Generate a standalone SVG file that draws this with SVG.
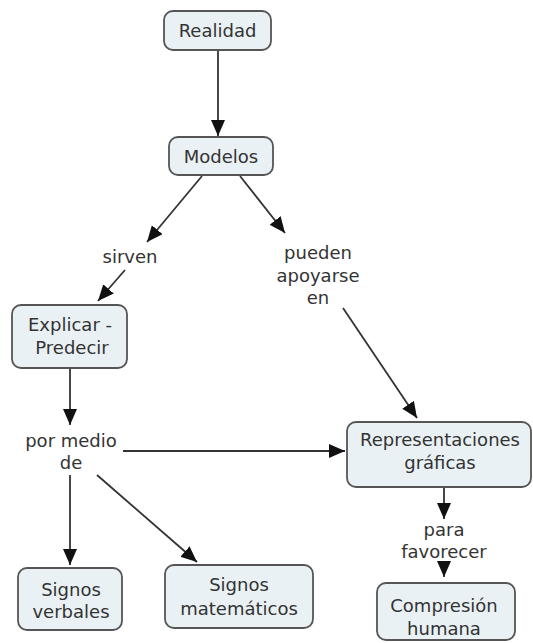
<svg xmlns="http://www.w3.org/2000/svg" width="533" height="643" viewBox="0 0 533 643">
<style>
.box{fill:#e9f1f4;stroke:#555;stroke-width:1.8}
.t{font-family:"DejaVu Sans",Verdana,sans-serif;font-size:18px;fill:#333;text-anchor:middle}
.c{stroke:#333;stroke-width:1.8;fill:none;marker-end:url(#ah)}
</style>
<defs>
<marker id="ah" viewBox="0 0 16 14" refX="16" refY="7" markerWidth="16" markerHeight="14" markerUnits="userSpaceOnUse" orient="auto">
<path d="M0,0 L16,7 L0,14 Z" fill="#111"/>
</marker>
</defs>
<rect width="533" height="643" fill="#fff"/>
<g id="connectors">
<line class="c" x1="218" y1="50" x2="218" y2="136"/>
<line class="c" x1="202" y1="176" x2="147" y2="242"/>
<line class="c" x1="240" y1="176" x2="285" y2="233"/>
<line class="c" x1="125" y1="270" x2="98" y2="301"/>
<line class="c" x1="343" y1="308" x2="417" y2="418"/>
<line class="c" x1="70" y1="368" x2="70" y2="425"/>
<line class="c" x1="123" y1="451" x2="345" y2="451"/>
<line class="c" x1="70" y1="475" x2="70" y2="565"/>
<line class="c" x1="97" y1="475" x2="197" y2="562"/>
<line class="c" x1="444" y1="487" x2="444" y2="519"/>
<line class="c" x1="444" y1="563" x2="444" y2="577"/>
</g>
<g id="realidad"><rect class="box" x="164" y="11" width="107" height="39" rx="9"/><text class="t" x="217.5" y="37">Realidad</text></g>
<g id="modelos"><rect class="box" x="169" y="137" width="104" height="38" rx="9"/><text class="t" x="221" y="163">Modelos</text></g>
<g id="sirven"><text class="t" x="130" y="263">sirven</text></g>
<g id="pueden"><text class="t" x="318" y="259">pueden</text><text class="t" x="318" y="282">apoyarse</text><text class="t" x="318" y="304">en</text></g>
<g id="explicar"><rect class="box" x="12" y="305" width="115" height="63" rx="9"/><text class="t" x="70" y="331">Explicar -</text><text class="t" x="72" y="354">Predecir</text></g>
<g id="pormedio"><text class="t" x="71" y="447">por medio</text><text class="t" x="71" y="469">de</text></g>
<g id="representaciones"><rect class="box" x="347" y="422" width="184" height="65" rx="9"/><text class="t" x="440" y="446">Representaciones</text><text class="t" x="440" y="469">gráficas</text></g>
<g id="para"><text class="t" x="444" y="536">para</text><text class="t" x="444" y="558">favorecer</text></g>
<g id="verbales"><rect class="box" x="18" y="568" width="104" height="62" rx="9"/><text class="t" x="71" y="596">Signos</text><text class="t" x="71" y="618">verbales</text></g>
<g id="matematicos"><rect class="box" x="165" y="565" width="148" height="63" rx="9"/><text class="t" x="239" y="591">Signos</text><text class="t" x="239" y="615">matemáticos</text></g>
<g id="compresion"><rect class="box" x="377" y="583" width="138" height="57" rx="9"/><text class="t" x="444" y="612">Compresión</text><text class="t" x="444" y="635">humana</text></g>
</svg>
